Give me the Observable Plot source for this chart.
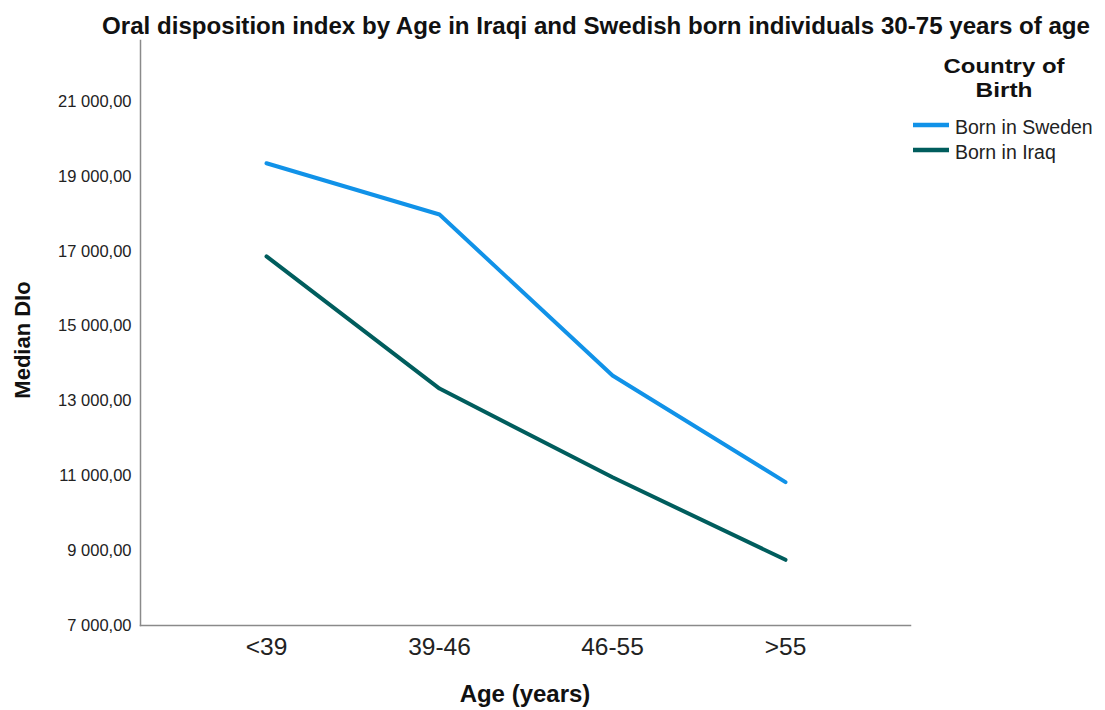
<!DOCTYPE html>
<html><head><meta charset="utf-8">
<script src="https://cdn.jsdelivr.net/npm/d3@7"></script>
<script src="https://cdn.jsdelivr.net/npm/@observablehq/plot@0.6"></script>
<style>
body{margin:0;background:#fff;font-family:"Liberation Sans",Arial,sans-serif;color:#111}
#wrap{position:relative;width:1105px;height:710px;overflow:hidden}
#wrap > svg{position:absolute;left:0;top:0}
</style></head><body><div id="wrap"></div>
<script>
const ageGroups = ["<39", "39-46", "46-55", ">55"];
const seriesNames = ["Born in Sweden", "Born in Iraq"];
const bornInSweden = [19350, 17980, 13680, 10830];
const bornInIraq = [16860, 13330, 10960, 8755];
const seriesColors = ["#1192e8", "#005d5d"];
const yTicks = [7000, 9000, 11000, 13000, 15000, 17000, 19000, 21000];
const titleText = "Oral disposition index by Age in Iraqi and Swedish born individuals 30-75 years of age";
const yLabel = "Median DIo";
const xLabel = "Age (years)";
const legendTitle = ["Country of", "Birth"];

const data = [];
ageGroups.forEach((a, i) => data.push({age: a, series: seriesNames[0], value: bornInSweden[i]}));
ageGroups.forEach((a, i) => data.push({age: a, series: seriesNames[1], value: bornInIraq[i]}));

const fmt = d3.formatLocale({decimal: ",", thousands: "\u00a0", grouping: [3], currency: ["", ""]}).format(",.2f");
const FONT = '"Liberation Sans", Arial, sans-serif';

const chart = Plot.plot({
  width: 1105, height: 710,
  marginLeft: 140, marginRight: 195, marginTop: 40, marginBottom: 85,
  style: {fontFamily: FONT, color: "#222", background: "transparent"},
  x: {type: "point", domain: ageGroups, padding: 0.72, label: null},
  y: {domain: [7000, 22630], label: null},
  color: {domain: seriesNames, range: seriesColors},
  marks: [
    Plot.frame({anchor: "left", stroke: "#8a8a8a", strokeWidth: 1.5}),
    Plot.frame({anchor: "bottom", stroke: "#8a8a8a", strokeWidth: 1.5}),
    Plot.axisY({ticks: yTicks, tickFormat: fmt, tickSize: 0, tickPadding: 9, fontSize: 16.5, label: null}),
    Plot.axisX({tickSize: 0, tickPadding: 12, fontSize: 24.5, label: null}),
    Plot.line(data, {x: "age", y: "value", stroke: "series", z: "series", strokeWidth: 4, strokeLinejoin: "round"})
  ]
});

const wrap = document.getElementById("wrap");
wrap.appendChild(chart);

// overlay for title, axis titles and legend
const ov = d3.select(wrap).append("svg")
  .attr("width", 1105).attr("height", 710)
  .style("font-family", FONT).style("pointer-events", "none");

ov.append("text").attr("x", 102).attr("y", 34)
  .attr("font-weight", "bold").attr("font-size", 24).attr("fill", "#111")
  .attr("textLength", 988).attr("lengthAdjust", "spacingAndGlyphs")
  .text(titleText);

ov.append("text").attr("transform", "translate(30,340) rotate(-90)")
  .attr("text-anchor", "middle").attr("font-weight", "bold").attr("font-size", 22).attr("fill", "#111")
  .text(yLabel);

ov.append("text").attr("x", 525).attr("y", 702)
  .attr("text-anchor", "middle").attr("font-weight", "bold").attr("font-size", 24).attr("fill", "#111")
  .text(xLabel);

const legTitleW = [121, 57];
legendTitle.forEach((s, i) => {
  ov.append("text").attr("x", 1004 - legTitleW[i] / 2).attr("y", 73 + i * 24)
    .attr("font-weight", "bold").attr("font-size", 20.5).attr("fill", "#111")
    .attr("textLength", legTitleW[i]).attr("lengthAdjust", "spacingAndGlyphs")
    .text(s);
});

const legY = [125, 150];
seriesNames.forEach((s, i) => {
  ov.append("line").attr("x1", 913).attr("x2", 949).attr("y1", legY[i]).attr("y2", legY[i])
    .attr("stroke", seriesColors[i]).attr("stroke-width", 4.5);
  ov.append("text").attr("x", 955).attr("y", legY[i] + 2).attr("dy", "0.35em")
    .attr("font-size", 19.5).attr("fill", "#222").text(s);
});
</script></body></html>
